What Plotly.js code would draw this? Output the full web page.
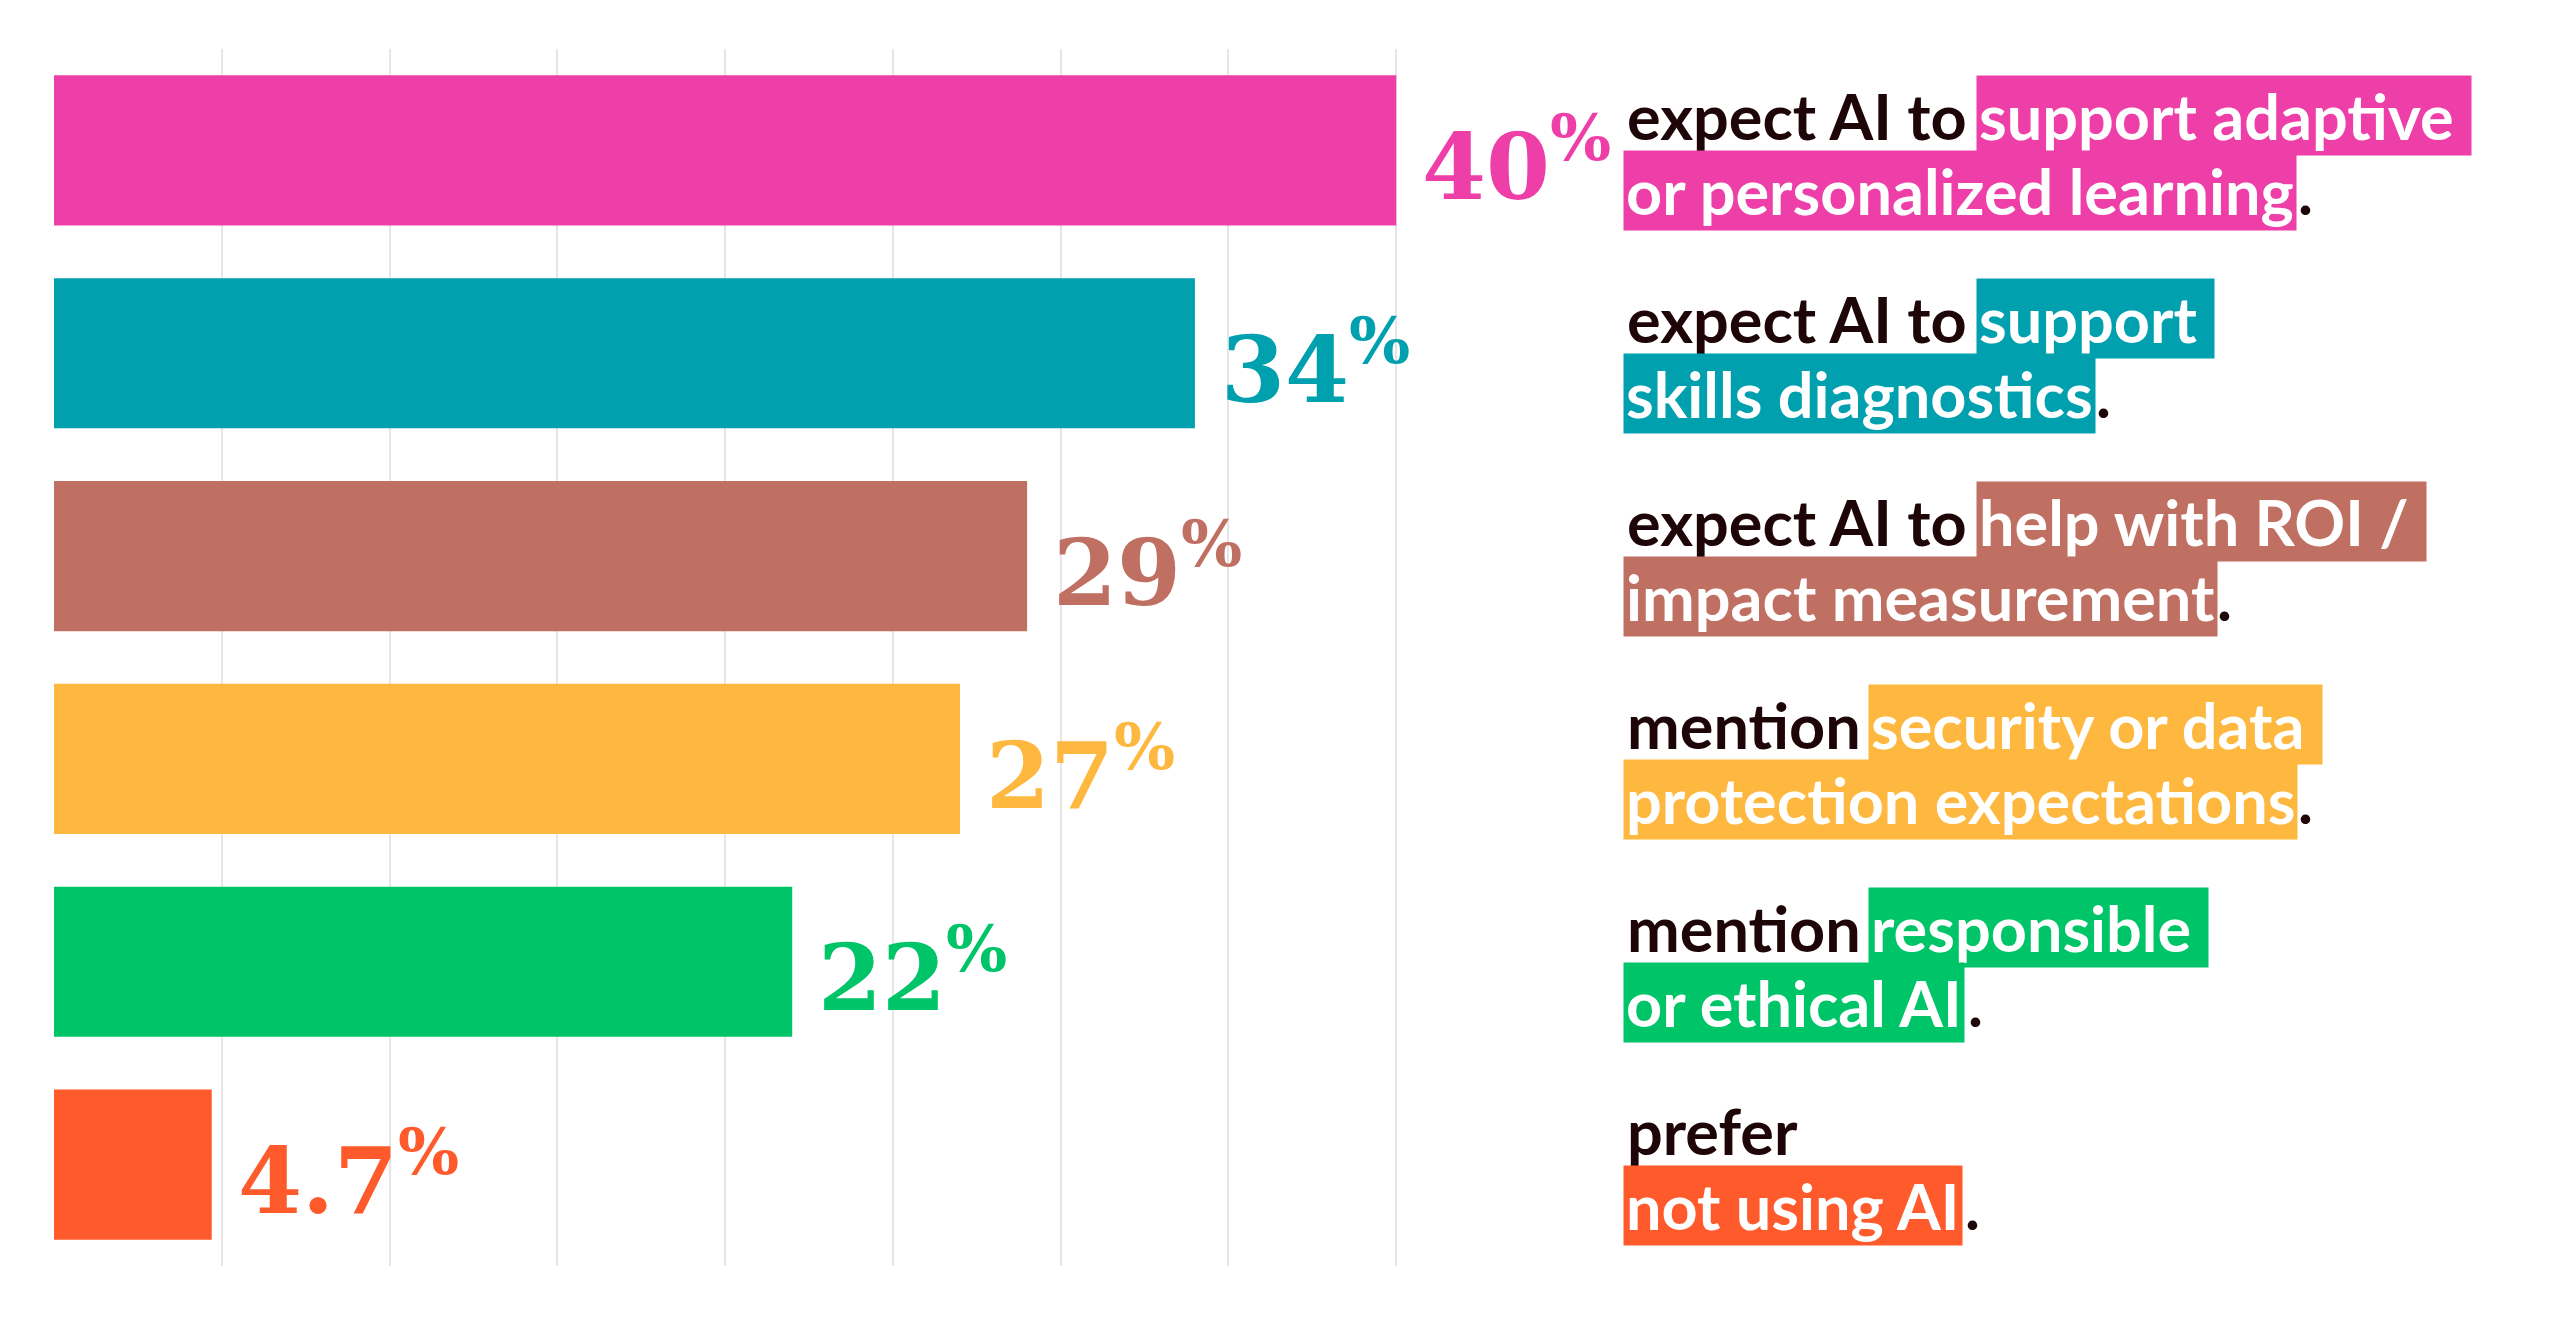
<!DOCTYPE html>
<html>
<head>
<meta charset="utf-8">
<script src="https://cdn.plot.ly/plotly-3.0.1.min.js"></script>
<style>
  html, body { margin: 0; padding: 0; background: #fff; }
  #chart { width: 2560px; height: 1318px; }
</style>
</head>
<body>
<div id="chart"></div>
<script>
const values = [40, 34, 29, 27, 22, 4.7];
const valueLabels = ['40', '34', '29', '27', '22', '4.7'];
const colors = ['#EE3FA8', '#00A0AE', '#C07062', '#FFB83F', '#00C468', '#FF5A2B'];
const prefixes = ['expect AI to ', 'expect AI to ', 'expect AI to ', 'mention ', 'mention ', 'prefer'];
const highlight1 = ['support adaptive', 'support', 'help with ROI /', 'security or data', 'responsible', ''];
const highlight2 = ['or personalized learning', 'skills diagnostics', 'impact measurement',
    'protection expectations', 'or ethical AI', 'not using AI'];

const W = 2560, H = 1318;
const ml = 54, mr = 996, mt = 49, mb = 52;
const plotW = W - ml - mr;
const dark = '#1E0508';
const labelFont = 'Lato';
const labelSize = 63;

const ctx = document.createElement('canvas').getContext('2d');
ctx.font = 'bold ' + labelSize + 'px ' + labelFont;
const textW = s => ctx.measureText(s).width;

const px2paper = px => (px - ml) / plotW;
const textLeft = 1625;

const rows = values.map((v, i) => i);

const trace = {
    type: 'bar',
    orientation: 'h',
    x: values,
    y: rows,
    width: 0.74,
    marker: { color: colors },
    hoverinfo: 'skip',
};

const annotations = [];
const base = { xref: 'paper', yref: 'y', xanchor: 'left', yanchor: 'middle', showarrow: false,
    font: { family: labelFont, size: labelSize, weight: 700, color: dark } };

rows.forEach(i => {
    // value label
    annotations.push({
        x: values[i], y: i + 0.05, xref: 'x', yref: 'y', xanchor: 'left', yanchor: 'middle',
        xshift: 24, showarrow: false,
        text: valueLabels[i] + '<sup>%</sup>',
        font: { family: 'DejaVu Serif', size: 92, weight: 700, color: colors[i] },
    });
    // line 1
    const y1 = i - 0.17, y2 = i + 0.2;
    annotations.push(Object.assign({}, base, { x: px2paper(textLeft), y: y1, text: prefixes[i] }));
    if (highlight1[i]) {
        annotations.push(Object.assign({}, base, {
            x: px2paper(textLeft + textW(prefixes[i]) - 6), y: y1, text: highlight1[i] + ' ',
            bgcolor: colors[i], borderpad: 2,
            font: Object.assign({}, base.font, { color: '#fff' }),
        }));
    }
    // line 2
    annotations.push(Object.assign({}, base, {
        x: px2paper(textLeft - 2), y: y2, text: highlight2[i],
        bgcolor: colors[i], borderpad: 2,
        font: Object.assign({}, base.font, { color: '#fff' }),
    }));
    annotations.push(Object.assign({}, base, {
        x: px2paper(textLeft + textW(highlight2[i]) + 2), y: y2, text: '.',
    }));
});

const layout = {
    width: W, height: H,
    margin: { l: ml, r: mr, t: mt, b: mb },
    paper_bgcolor: '#fff', plot_bgcolor: '#fff',
    showlegend: false,
    xaxis: { range: [0, 45], dtick: 5, showticklabels: false, showgrid: true,
        gridcolor: '#e6e6e6', gridwidth: 2, zeroline: false, showline: false, ticks: '' },
    yaxis: { range: [5.5, -0.5], showticklabels: false, showgrid: false, zeroline: false, ticks: '' },
    annotations: annotations,
};

Plotly.newPlot('chart', [trace], layout, { displayModeBar: false, staticPlot: true });
</script>
</body>
</html>
